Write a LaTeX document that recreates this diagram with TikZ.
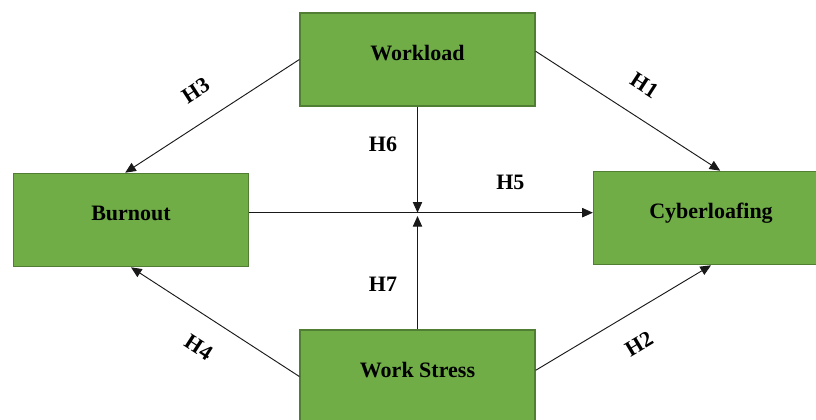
\documentclass[tikz,border=0pt]{standalone}
\usepackage{fontspec}
\setmainfont{Liberation Serif}
\usetikzlibrary{arrows.meta}
\definecolor{boxgreen}{RGB}{112,173,71}
\definecolor{boxedge}{RGB}{80,126,50}

\begin{document}
\begin{tikzpicture}[
    x=0.75pt, y=-0.75pt,
    factor/.style={draw=boxedge, fill=boxgreen, line width=1.2pt, minimum width=176pt,
        inner sep=0pt, text height=35.5pt, text depth=34.25pt,
        font=\fontsize{16.5}{19}\selectfont\bfseries},
    link/.style={-{Triangle[length=8pt,width=7pt]}, line width=0.7pt, black!90},
    hyp/.style={font=\fontsize{16.5}{19}\selectfont\bfseries, inner sep=0pt, black},
    ]
    \useasboundingbox (0,0) rectangle (816,419);
    \node[factor] (WL) at (417.5,59.5) {Workload};
    \node[factor] (BO) at (131,220) {Burnout};
    \node[factor] (CL) at (711,218) {Cyberloafing};
    \node[factor] (WS) at (417.5,376.5) {Work Stress};
    % direct paths
    \draw[link] (WL.west) -- (BO.97) node[hyp, midway, sloped, above=17pt] {H3};
    \draw[link] (WL.4) -- (CL.79) node[hyp, midway, sloped, above=17pt] {H1};
    \draw[link] (WS.west) -- (BO.south) node[hyp, midway, sloped, below=17pt] {H4};
    \draw[link] (WS.3) -- (CL.south) node[hyp, midway, sloped, below=17pt] {H2};
    % mediation and moderation
    \coordinate (BOout) at ([yshift=5.5pt]BO.east);
    \coordinate (joint) at (WL.south |- BOout);
    \draw[link] (BOout) -- (BOout -| CL.west) node[hyp, pos=0.76, above=17pt] {H5};
    \draw[link] (WL.south) -- (joint) node[hyp, pos=0.35, left=15pt] {H6};
    \draw[link] (WS.north) -- ([yshift=-2.5pt]joint) node[hyp, pos=0.4, left=15pt] {H7};
\end{tikzpicture}
\end{document}
